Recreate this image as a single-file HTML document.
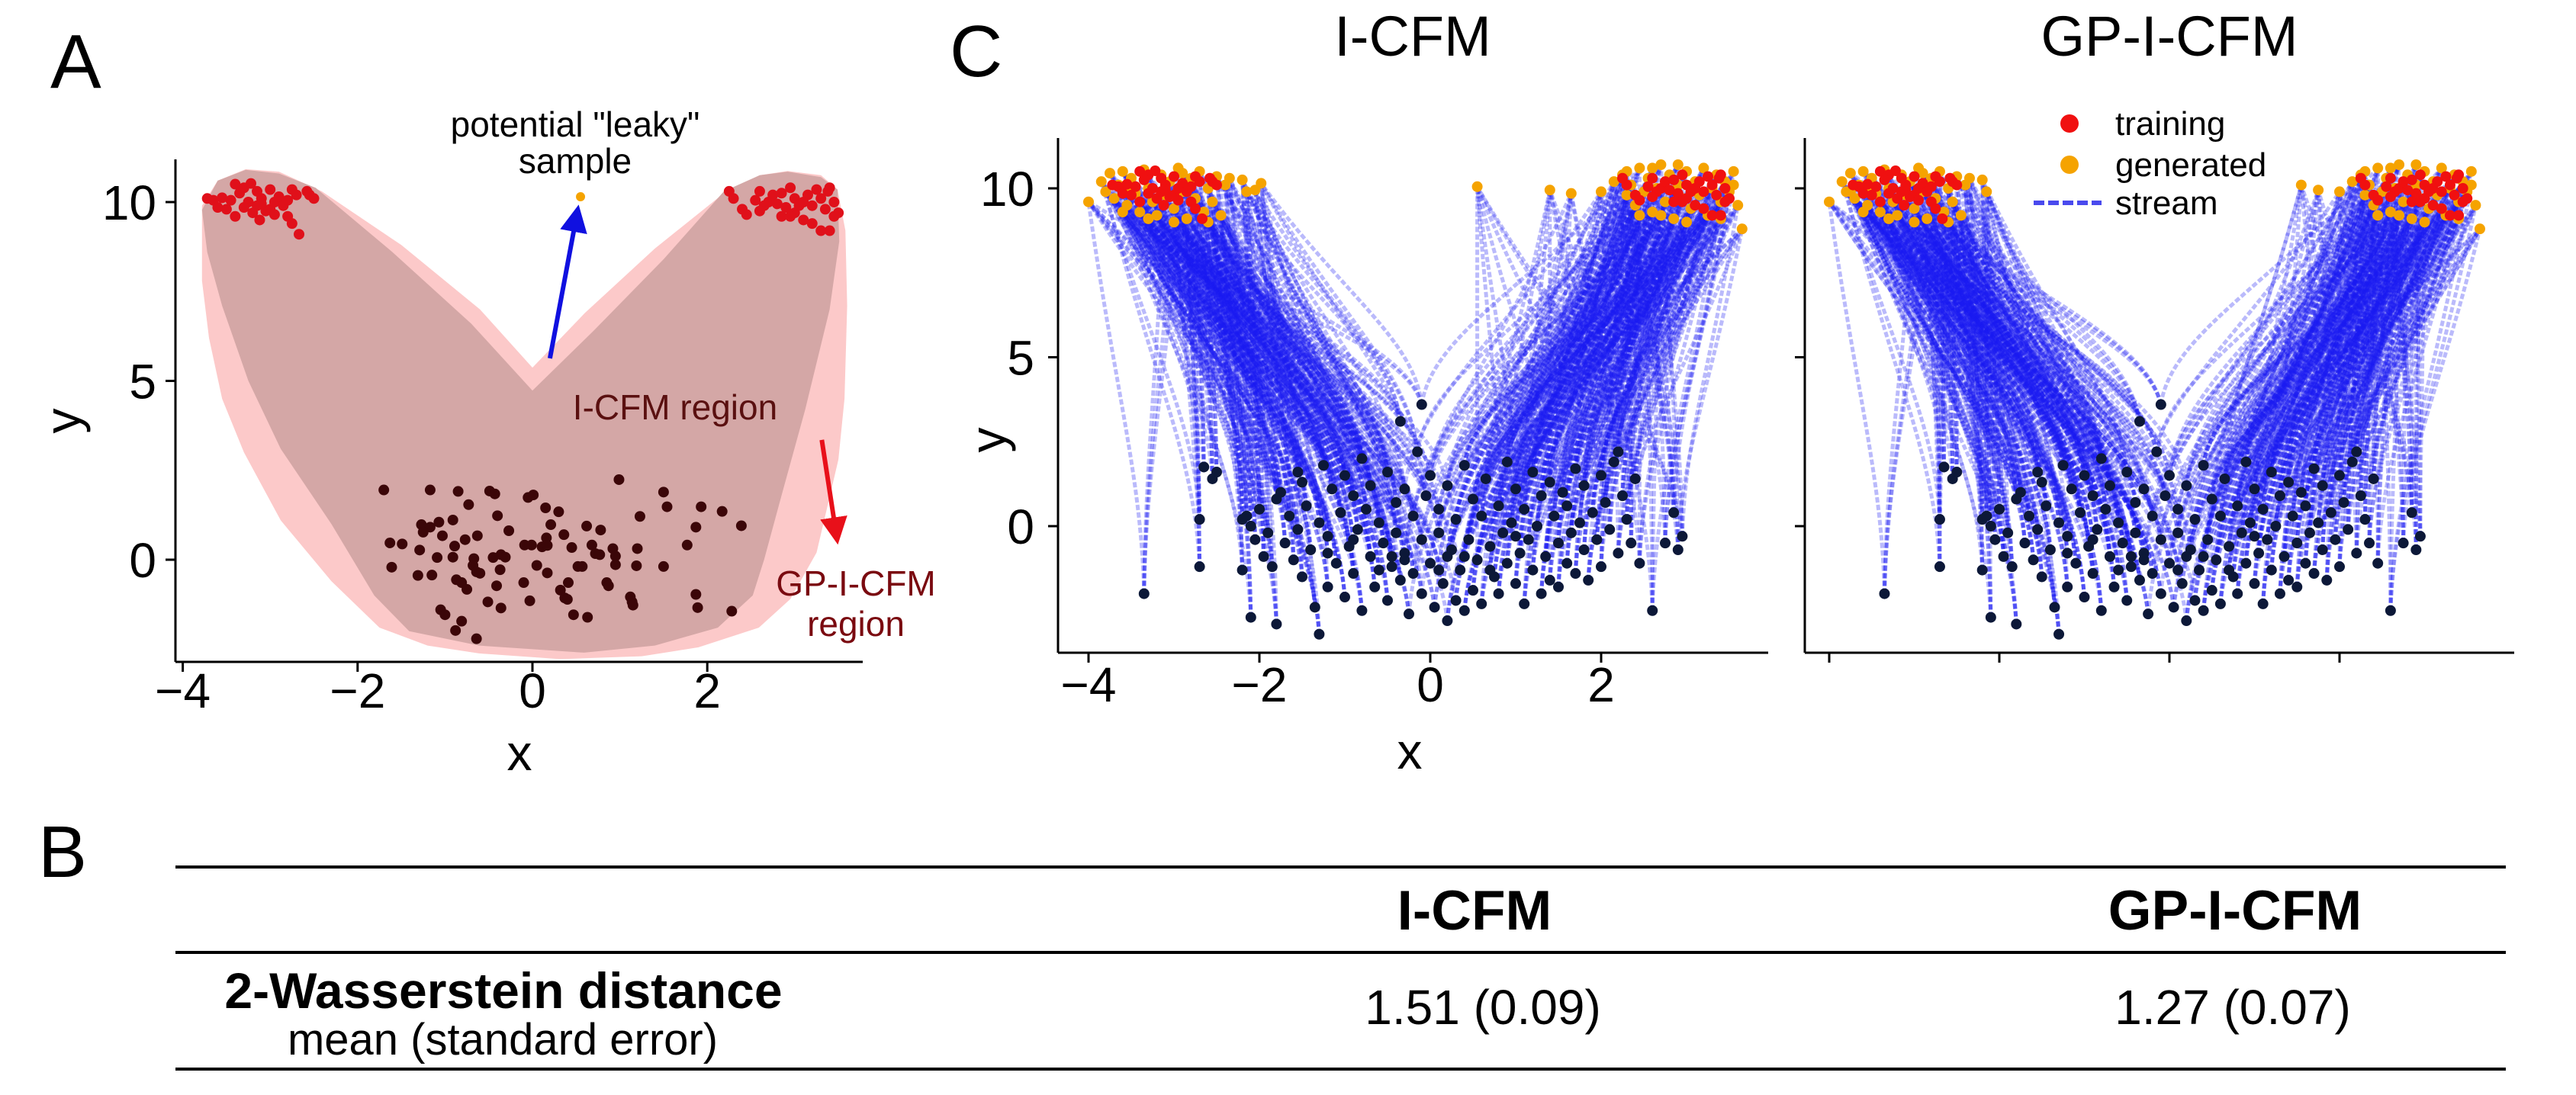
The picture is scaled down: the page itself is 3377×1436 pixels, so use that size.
<!DOCTYPE html>
<html><head><meta charset="utf-8"><style>
html,body{margin:0;padding:0;background:#fff;}
svg{display:block;font-family:"Liberation Sans",Arial,sans-serif;}
</style></head><body>
<svg id="fig" width="3377" height="1436" viewBox="0 0 3377 1436" xmlns="http://www.w3.org/2000/svg">
<rect width="3377" height="1436" fill="#fff"/>
<text x="66" y="115" font-size="100">A</text>
<text x="1245" y="100" font-size="96">C</text>
<text x="50" y="1150" font-size="96">B</text>
<g id="panelA"></g>
<g id="panelC1"></g>
<g id="panelC2"></g>
<g>
<line x1="230" y1="1137" x2="3285" y2="1137" stroke="#000" stroke-width="4"/>
<line x1="230" y1="1249" x2="3285" y2="1249" stroke="#000" stroke-width="4"/>
<line x1="230" y1="1402" x2="3285" y2="1402" stroke="#000" stroke-width="4"/>
<text x="1933" y="1219" font-size="73" font-weight="bold" text-anchor="middle">I-CFM</text>
<text x="2930" y="1219" font-size="73" font-weight="bold" text-anchor="middle">GP-I-CFM</text>
<text x="660" y="1322" font-size="66" font-weight="bold" text-anchor="middle">2-Wasserstein distance</text>
<text x="659" y="1383" font-size="58" text-anchor="middle">mean (standard error)</text>
<text x="1944" y="1343" font-size="64" text-anchor="middle">1.51 (0.09)</text>
<text x="2927" y="1343" font-size="64" text-anchor="middle">1.27 (0.07)</text>
</g>
</svg>
<script>
const NS='http://www.w3.org/2000/svg';
// ---------- DATA ----------
const trainLeft=[[-3.72,10.1],[-3.65,10.05],[-3.55,10.12],[-3.6,9.85],[-3.5,9.8],[-3.4,10.5],[-3.3,10.4],[-3.22,10.52],[-3.35,10.25],[-3.25,10.0],[-3.15,9.9],[-3.1,10.1],[-3.05,9.75],[-3.2,9.7],[-3.3,9.85],[-3.12,9.5],[-3.0,9.8],[-2.95,10.0],[-2.9,10.15],[-2.85,9.9],[-2.8,10.05],[-2.75,10.35],[-2.7,10.2],[-2.8,9.6],[-2.75,9.4],[-2.67,9.1],[-3.4,9.6],[-3.0,10.35],[-3.15,10.3],[-2.55,10.2],[-2.5,10.1],[-2.58,10.3],[-3.45,10.05],[-3.1,9.95],[-2.95,9.65]];
const trainRight=[[2.25,10.3],[2.3,10.1],[2.4,9.8],[2.45,9.65],[2.55,10.05],[2.6,10.3],[2.65,9.9],[2.7,10.0],[2.75,10.2],[2.8,9.95],[2.85,9.6],[2.9,9.85],[2.95,10.4],[3.0,10.1],[3.05,9.9],[3.1,9.5],[3.15,10.2],[3.2,9.9],[3.25,10.35],[3.3,10.1],[3.35,9.8],[3.4,10.4],[3.45,10.0],[3.5,9.7],[3.3,9.2],[3.4,9.2],[3.2,9.4],[3.0,9.7],[2.85,10.25],[3.1,10.0],[2.6,9.75],[3.38,10.3],[3.45,9.6],[2.95,9.6]];
const sourceA=[[-1.7,1.95],[-1.17,1.95],[-0.85,1.91],[-0.49,1.92],[-0.43,1.84],[-0.05,1.74],[0.01,1.81],[0.99,2.24],[1.5,1.89],[1.54,1.48],[1.93,1.48],[2.17,1.35],[2.39,0.95],[-0.73,1.54],[0.15,1.45],[0.3,1.34],[-0.4,1.23],[1.23,1.21],[-0.91,1.11],[-1.07,1.05],[-1.27,0.98],[-1.17,0.91],[0.21,0.98],[0.62,0.94],[0.78,0.83],[1.87,0.91],[-1.25,0.77],[-1.03,0.67],[-0.63,0.67],[-0.27,0.81],[0.36,0.7],[0.16,0.61],[-0.77,0.56],[-1.63,0.47],[-1.49,0.44],[-0.09,0.41],[-0.01,0.41],[0.11,0.36],[0.17,0.4],[-0.89,0.38],[0.45,0.34],[0.68,0.41],[0.92,0.31],[1.2,0.31],[1.77,0.41],[-1.29,0.27],[0.72,0.17],[0.77,0.14],[-1.09,0.06],[-0.91,0.07],[-0.67,0.03],[-0.45,0.06],[-0.36,0.14],[-0.31,0.07],[0.95,0.1],[-0.68,-0.16],[0.05,-0.16],[0.52,-0.19],[0.57,-0.19],[0.95,-0.14],[1.19,-0.17],[1.5,-0.19],[-1.61,-0.21],[-0.37,-0.28],[-0.64,-0.34],[-0.6,-0.38],[0.17,-0.37],[-1.15,-0.43],[-1.31,-0.44],[-0.87,-0.56],[-0.1,-0.64],[0.41,-0.64],[0.85,-0.64],[0.87,-0.73],[-0.81,-0.64],[-0.41,-0.73],[-0.75,-0.83],[0.32,-0.85],[0.37,-1.07],[0.4,-1.11],[1.12,-1.04],[1.14,-1.18],[1.15,-1.27],[1.87,-0.97],[1.89,-1.34],[-0.03,-1.15],[-0.51,-1.18],[-0.36,-1.35],[-1.05,-1.4],[-1.0,-1.54],[0.47,-1.54],[0.63,-1.61],[2.28,-1.44],[-0.81,-1.72],[-0.88,-1.98],[-0.64,-2.21]];
const gpRegion=[[-3.78,9.9],[-3.6,10.6],[-3.28,10.92],[-2.9,10.85],[-2.41,10.3],[-1.5,8.8],[-0.6,7.0],[0,5.37],[0.6,6.9],[1.4,8.7],[2.19,10.25],[2.6,10.75],[2.92,10.87],[3.3,10.75],[3.49,10.35],[3.58,9.2],[3.6,7.1],[3.57,4.5],[3.5,2.8],[3.25,0.2],[2.95,-1.1],[2.59,-1.9],[1.9,-2.45],[1.25,-2.7],[0.32,-2.78],[-0.61,-2.62],[-1.2,-2.4],[-1.75,-1.9],[-2.3,-0.6],[-2.88,1.1],[-3.3,3.0],[-3.55,4.5],[-3.7,6.2],[-3.78,7.8]];
const icfmRegion=[[-3.78,9.78],[-3.6,10.6],[-3.28,10.9],[-2.9,10.8],[-2.48,10.4],[-1.6,8.6],[-0.7,6.6],[0,4.73],[0.7,6.4],[1.5,8.4],[2.19,10.3],[2.6,10.75],[2.92,10.85],[3.3,10.7],[3.49,10.35],[3.51,8.9],[3.4,7.0],[3.12,4.2],[2.85,1.8],[2.65,0],[2.52,-1.0],[2.12,-1.9],[1.4,-2.4],[0.59,-2.6],[-0.61,-2.4],[-1.41,-2.0],[-1.81,-1.0],[-2.3,1.0],[-2.88,3.1],[-3.25,5.0],[-3.55,7.1],[-3.72,8.6]];
const leakyPoint=[0.55,10.15];
const xTicks=[-4,-2,0,2];
const yTicks=[0,5,10];
const sourceC=[[-3.35,-2.0],[-2.7,0.2],[-2.7,-1.2],[-2.65,1.75],[-2.55,1.4],[-2.5,1.6],[-2.2,0.2],[-2.2,-1.3],[-2.1,-2.7],[-2.15,0.3],[-2.1,0.0],[-2.05,-0.4],[-2.0,0.5],[-1.95,-0.9],[-1.9,-0.2],[-1.85,-1.2],[-1.8,-2.9],[-1.8,0.8],[-1.75,1.0],[-1.7,-0.5],[-1.65,0.3],[-1.6,-1.0],[-1.55,1.6],[-1.55,-0.1],[-1.5,1.3],[-1.5,-1.5],[-1.45,0.6],[-1.4,-0.7],[-1.35,-2.4],[-1.3,-3.2],[-1.3,0.1],[-1.25,1.8],[-1.2,-0.3],[-1.2,-1.8],[-1.15,1.1],[-1.1,-1.1],[-1.05,0.4],[-1.0,-2.1],[-1.0,1.5],[-0.95,-0.6],[-0.9,0.9],[-0.9,-1.4],[-0.85,-0.1],[-0.8,2.0],[-0.8,-2.5],[-0.75,0.5],[-0.7,-0.9],[-0.7,1.2],[-0.65,-1.8],[-0.6,0.1],[-0.55,-0.5],[-0.5,1.6],[-0.5,-2.2],[-0.45,-1.2],[-0.4,0.7],[-0.4,-0.2],[-0.35,3.1],[-0.35,-1.6],[-0.3,1.1],[-0.3,-0.8],[-0.25,-2.6],[-0.2,0.3],[-0.2,-1.4],[-0.15,2.2],[-0.1,3.6],[-0.1,-0.4],[-0.1,-2.0],[-0.05,0.9],[0.0,-1.1],[0.0,1.5],[0.05,-2.4],[0.1,-0.2],[0.1,0.5],[0.15,-1.7],[0.2,-2.8],[0.2,1.2],[0.25,-0.7],[0.3,-2.2],[0.3,0.2],[0.35,-1.3],[0.4,1.8],[0.4,-2.5],[0.45,-0.4],[0.5,0.8],[0.5,-1.9],[0.55,-1.0],[0.6,0.3],[0.6,-2.3],[0.65,1.4],[0.7,-0.6],[0.75,-1.5],[0.8,0.6],[0.8,-2.0],[0.85,-0.2],[0.9,1.9],[0.9,-1.1],[0.95,0.1],[1.0,-1.7],[1.0,1.1],[1.05,-0.8],[1.1,0.5],[1.1,-2.3],[1.15,-0.4],[1.2,1.6],[1.2,-1.3],[1.25,0.0],[1.3,-2.0],[1.3,0.9],[1.35,-0.9],[1.4,1.3],[1.4,-1.6],[1.45,0.3],[1.5,-0.5],[1.5,-1.8],[1.55,1.0],[1.6,-1.1],[1.6,0.6],[1.65,-0.2],[1.7,1.7],[1.7,-1.4],[1.75,0.1],[1.8,-0.7],[1.8,1.2],[1.85,-1.6],[1.9,0.4],[1.95,-0.4],[2.0,1.5],[2.0,-1.2],[2.05,0.7],[2.1,-0.1],[2.15,1.9],[2.2,-0.8],[2.2,2.2],[2.25,0.9],[2.3,0.2],[2.35,-0.5],[2.4,1.4],[2.45,-1.1],[2.6,-2.5],[2.75,-0.5],[2.85,0.4],[2.95,-0.3],[2.9,-0.7],[-0.6,-1.3],[-0.3,-1.0],[0.1,-1.3],[0.4,-0.9],[-0.9,-0.4],[0.7,-1.3],[-1.2,-0.8],[0.2,-0.9],[-0.45,-0.9],[1.0,-0.3]];
const genLeft=[[-4.0,9.6],[-3.85,10.2],[-3.8,9.9],[-3.75,10.45],[-3.7,9.7],[-3.65,10.1],[-3.6,10.5],[-3.55,9.5],[-3.5,10.3],[-3.45,9.85],[-3.4,9.3],[-3.35,10.55],[-3.3,10.0],[-3.25,9.6],[-3.2,9.2],[-3.15,10.4],[-3.1,9.8],[-3.05,10.2],[-3.0,9.4],[-2.95,10.6],[-2.9,9.9],[-2.85,9.1],[-2.8,10.3],[-2.75,9.7],[-2.7,10.5],[-2.65,9.3],[-2.6,10.0],[-2.55,9.6],[-2.5,10.35],[-2.45,9.2],[-2.4,10.1],[-2.35,10.3],[-2.2,10.25],[-2.15,9.9],[-3.6,9.3],[-3.3,9.1],[-2.9,10.45],[-3.5,10.0],[-3.0,9.0],[-2.6,9.0]];
const genRight=[[2.0,9.9],[2.15,10.2],[2.25,10.4],[2.3,9.8],[2.35,10.1],[2.4,9.5],[2.45,10.6],[2.5,9.9],[2.55,10.3],[2.6,9.3],[2.65,10.0],[2.7,10.7],[2.75,9.6],[2.8,10.4],[2.85,9.1],[2.9,10.1],[2.95,9.7],[3.0,10.5],[3.05,9.4],[3.1,10.2],[3.15,9.8],[3.2,10.6],[3.25,9.2],[3.3,10.0],[3.35,10.4],[3.4,9.6],[3.45,10.2],[3.5,9.9],[3.55,10.5],[3.6,9.5],[3.65,8.8],[2.6,10.6],[3.0,9.0],[2.9,10.7],[2.45,9.2],[3.4,9.1],[3.2,9.4],[2.7,9.2],[3.55,10.1],[2.3,10.5]];
const outlierIcfmLeft=[[-2.05,9.95],[-1.98,10.15]];
const outlierIcfmRight=[[0.55,10.05],[1.4,9.95],[1.65,9.85]];
const outlierGpLeft=[[-3.75,9.9]];
const outlierGpRight=[[1.55,10.1],[1.75,9.95]];

function el(tag,attrs,parent){const e=document.createElementNS(NS,tag);for(const k in attrs)e.setAttribute(k,attrs[k]);parent.appendChild(e);return e;}

function axes(g,X,Y,ax,showXLabels,showYLabels,xLabelY,yLabelX,xTitle,yTitle){
  const [x0,x1,y0,y1]=ax;
  const ya=el('line',{x1:x0,y1:y0,x2:x0,y2:y1,stroke:'#000','stroke-width':3},g);
  
  const xa=el('line',{x1:x0,y1:y1,x2:x1,y2:y1,stroke:'#000','stroke-width':3},g);
  
  xTicks.forEach(t=>{
    const tk=el('line',{x1:X(t),y1:y1,x2:X(t),y2:y1+13,stroke:'#000','stroke-width':3},g);
    
    if(showXLabels){const tl=el('text',{x:X(t),y:xLabelY,'font-size':64,'text-anchor':'middle'},g);tl.textContent=(t<0?'\u2212'+(-t):String(t));
      }
  });
  yTicks.forEach(t=>{
    const tk=el('line',{x1:x0-13,y1:Y(t),x2:x0,y2:Y(t),stroke:'#000','stroke-width':3},g);
    
    if(showYLabels){const tl=el('text',{x:yLabelX,y:Y(t)+23,'font-size':64,'text-anchor':'end'},g);tl.textContent=String(t);
      }
  });
  if(xTitle){const t=el('text',{x:xTitle[0],y:xTitle[1],'font-size':66,'text-anchor':'middle'},g);t.textContent='x';
    }
  if(yTitle){const t=el('text',{x:yTitle[0],y:yTitle[1],'font-size':66,'text-anchor':'middle',transform:`rotate(-90 ${yTitle[0]} ${yTitle[1]})`},g);t.textContent='y';
    }
}

function dots(g,arr,X,Y,r,fill,name){
  arr.forEach(p=>{const c=el('circle',{cx:X(p[0]),cy:Y(p[1]),r:r,fill:fill},g);
    });
}

// ---------- PANEL A ----------
(function(){
  const g=document.getElementById('panelA');
  const X=x=>698+x*114.6, Y=y=>734-y*46.9;
  const path=a=>'M'+a.map(p=>X(p[0]).toFixed(1)+','+Y(p[1]).toFixed(1)).join(' L')+' Z';
  const gp=el('path',{d:path(gpRegion),fill:'#fcc9c9','stroke-linejoin':'round'},g);
  
  const ic=el('path',{d:path(icfmRegion),fill:'#d4a7a6'},g);
  
  axes(g,X,Y,[230,1131,209,868],true,true,928,205,[681,1010],[105,552]);
  dots(g,sourceA,X,Y,7,'#3b0608','source-point');
  dots(g,trainLeft,X,Y,7,'#e0101a','training-point');
  dots(g,trainRight,X,Y,7,'#e0101a','training-point');
  dots(g,[leakyPoint],X,Y,6,'#f5a300','leaky-sample-point');
  const defs=el('defs',{},g);
  const m1=el('marker',{id:'ab',markerWidth:6,markerHeight:6,refX:3,refY:3,orient:'auto'},defs);
  el('path',{d:'M0,0 L6,3 L0,6 Z',fill:'#1010e0'},m1);
  const m2=el('marker',{id:'ar',markerWidth:6,markerHeight:6,refX:3,refY:3,orient:'auto'},defs);
  el('path',{d:'M0,0 L6,3 L0,6 Z',fill:'#e8101a'},m2);
  const a1=el('line',{x1:X(0.2),y1:Y(5.63),x2:X(0.5),y2:Y(9.55),stroke:'#1010e0','stroke-width':6,'marker-end':'url(#ab)'},g);
  
  const a2=el('line',{x1:X(3.31),y1:Y(3.35),x2:X(3.47),y2:Y(0.8),stroke:'#e8101a','stroke-width':6,'marker-end':'url(#ar)'},g);
  
  const lab=[['potential "leaky"',754,179,'#000','leaky-label'],['sample',754,227,'#000','leaky-label'],['I-CFM region',885,550,'#5a1010','icfm-region-label'],['GP-I-CFM',1122,781,'#7a0a10','gp-region-label'],['region',1122,834,'#7a0a10','gp-region-label']];
  lab.forEach(l=>{const t=el('text',{x:l[1],y:l[2],'font-size':46,'text-anchor':'middle',fill:l[3]},g);t.textContent=l[0];
    });
})();

// ---------- PANEL C ----------
function streamPanel(gid,x0axis,xUnit,axX0,axX1,gL,gR,labels){
  const g=document.getElementById(gid);
  const X=x=>x0axis+x*xUnit, Y=y=>690-y*44.3;
  const sg=el('g',{fill:'none',stroke:'#1a1af2','stroke-width':5,'stroke-opacity':0.3,'stroke-dasharray':'7 3'},g);
  
  let li=0,ri=0;
  const pairs=[];
  for(let k=0;k<4;k++){
    sourceC.forEach((s,i)=>{
      const goLeft = k===2 ? (s[0]<0.4) : (k===3 ? (s[0]<0) : (s[0]<-0.3 || (k===1 && s[0]<0.2)));
      const t=goLeft?gL[(li++)%gL.length]:gR[(ri++)%gR.length];pairs.push([s,t]);});
  }
  pairs.forEach(([s,t])=>{
    const dx=t[0]-s[0],dy=t[1]-s[1];
    const d=`M${X(s[0]).toFixed(1)},${Y(s[1]).toFixed(1)} C${X(s[0]+0.05*dx).toFixed(1)},${Y(s[1]+0.3*dy).toFixed(1)} ${X(s[0]+0.5*dx).toFixed(1)},${Y(s[1]+0.5*dy).toFixed(1)} ${X(t[0]).toFixed(1)},${Y(t[1]).toFixed(1)}`;
    const p=el('path',{d:d},sg);
    
  });
  axes(g,X,Y,[axX0,axX1,181,856],labels,labels,920,1356,labels?[1848,1008]:null,labels?[1318,577]:null);
  dots(g,sourceC,X,Y,7,'#0c1838','source-point');
  dots(g,gL,X,Y,7,'#f5a300','generated-point');
  dots(g,gR,X,Y,7,'#f5a300','generated-point');
  dots(g,trainLeft,X,Y,7,'#f01010','training-point');
  dots(g,trainRight,X,Y,7,'#f01010','training-point');
}
streamPanel('panelC1',1875,112,1387,2318,genLeft.concat(outlierIcfmLeft),genRight.concat(outlierIcfmRight),true);
streamPanel('panelC2',2844,111.5,2366,3296,genLeft.concat(outlierGpLeft),genRight.concat(outlierGpRight),false);

(function(){
  const svg=document.getElementById('fig');
  const t1=el('text',{x:1852,y:73,'font-size':74,'text-anchor':'middle'},svg);t1.textContent='I-CFM';
  
  const t2=el('text',{x:2844,y:73,'font-size':74,'text-anchor':'middle'},svg);t2.textContent='GP-I-CFM';
  
  const lg=el('g',{},svg);
  
  const items=[['training','#f01010',162],['generated','#f5a300',216]];
  items.forEach(it=>{
    const c=el('circle',{cx:2713,cy:it[2],r:12,fill:it[1]},lg);
    
    const t=el('text',{x:2773,y:it[2]+15,'font-size':44},lg);t.textContent=it[0];
    
  });
  const sl=el('line',{x1:2666,y1:266,x2:2755,y2:266,stroke:'#4a4aee','stroke-width':6,'stroke-dasharray':'14 5'},lg);
  
  const st=el('text',{x:2773,y:281,'font-size':44},lg);st.textContent='stream';
  
})();
</script>
</body></html>
